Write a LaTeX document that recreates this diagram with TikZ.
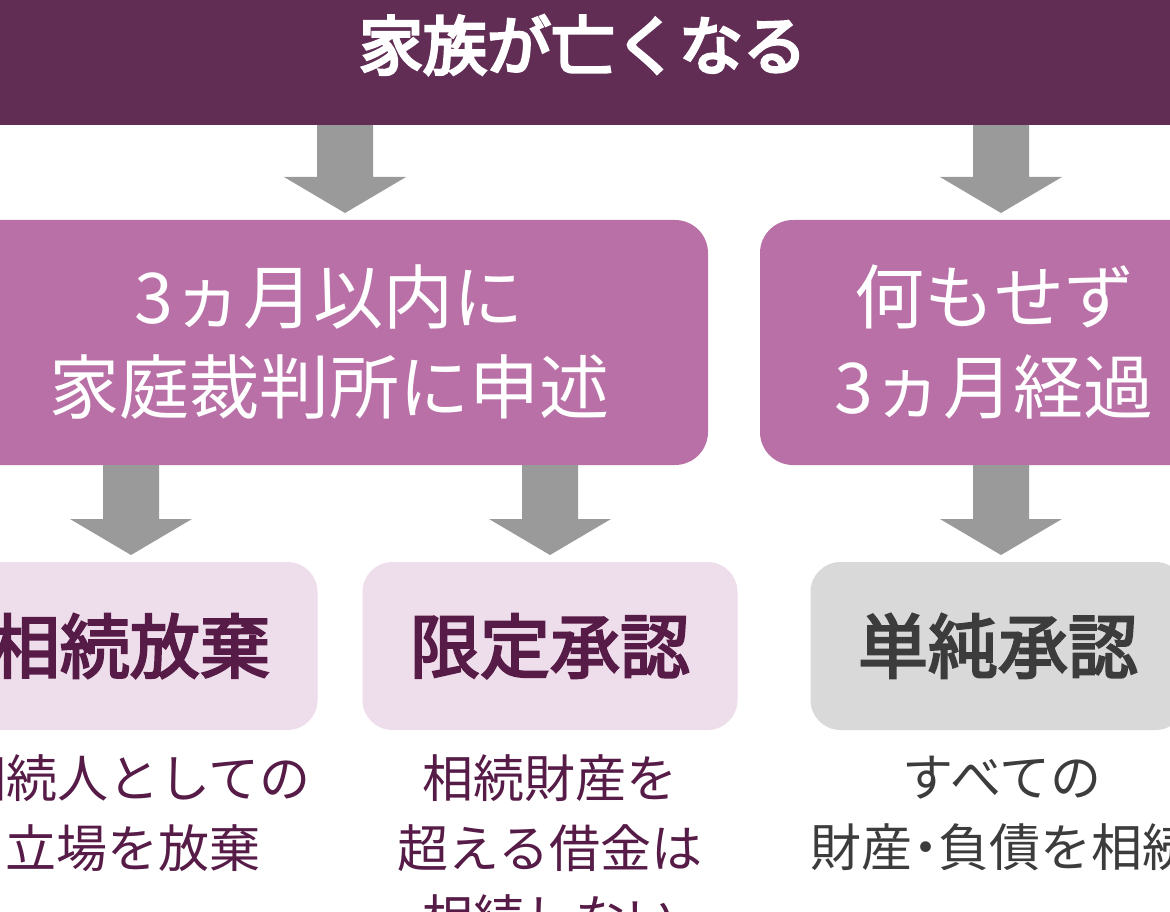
\documentclass[tikz,border=0pt]{standalone}
\usepackage{fontspec}
\newfontfamily\jp{Noto Sans CJK JP}
\newfontfamily\jpmed[FakeBold=3.2]{Noto Sans CJK JP}
\newfontfamily\jpsemi[FakeBold=4.5]{Noto Sans CJK JP}
\usetikzlibrary{calc}
\definecolor{bardark}{HTML}{622D55}
\definecolor{boxmid}{HTML}{B970A6}
\definecolor{boxlight}{HTML}{EEDDEA}
\definecolor{boxgray}{HTML}{D9D9D9}
\definecolor{arrowgray}{HTML}{9A9A9A}
\definecolor{txtpurple}{HTML}{561B47}
\definecolor{txtgray}{HTML}{3C3C3C}
\newcommand{\blockarrow}[2]{%
  \fill[arrowgray] ($(#1)+(-28,0)$) -- ($(#2)+(-28,-36)$) -- ($(#2)+(-61,-36)$) -- (#2)
    -- ($(#2)+(61,-36)$) -- ($(#2)+(28,-36)$) -- ($(#1)+(28,0)$) -- cycle;}
\begin{document}
\begin{tikzpicture}[x=1pt,y=-1pt,
  box/.style={rectangle, rounded corners=33pt, inner sep=0pt, align=center},
  midbox/.style={box, fill=boxmid, minimum height=245pt, text=white,
    font=\jp\fontsize{70}{90}\selectfont},
  lowbox/.style={box, rounded corners=30pt, minimum width=375pt, minimum height=168pt,
    font=\jpmed\fontsize{70}{70}\selectfont},
  desc/.style={inner sep=0pt, align=center, font=\jp\fontsize{51}{70}\selectfont}]
\useasboundingbox (0,0) rectangle (1170,912);
\fill[white] (0,0) rectangle (1170,912);
\clip (0,0) rectangle (1170,912);

\node[fill=bardark, minimum width=1300pt, minimum height=160pt, inner sep=0pt,
  text=white, font=\jpsemi\fontsize{64}{64}\selectfont] (top) at (583,45) {家族が亡くなる};

\node[midbox, minimum width=758pt] (proc) at (329,342.5) {3ヵ月以内に\\家庭裁判所に申述};
\node[midbox, minimum width=468pt] (none) at (994,342.5) {何もせず\\3ヵ月経過};

\node[lowbox, fill=boxlight, text=txtpurple] (bA) at (130,646) {相続放棄};
\node[lowbox, fill=boxlight, text=txtpurple] (bB) at (550,646) {限定承認};
\node[lowbox, fill=boxgray, text=txtgray] (bC) at (998,646) {単純承認};

\node[desc, text=txtpurple] (dA) at (133,813) {相続人としての\\立場を放棄};
\node[desc, text=txtpurple] (dB) at (550,848) {相続財産を\\超える借金は\\相続しない};
\node[desc, text=txtgray] (dC) at (1002,813) {すべての\\財産\kern-0.25em・\kern-0.25em負債を相続};

\coordinate (t1) at (345,213);
\coordinate (t2) at (1001,213);
\coordinate (t3) at (131,555);
\coordinate (t4) at (550,555);
\coordinate (t5) at (1001,555);
\blockarrow{top.south -| t1}{t1}
\blockarrow{top.south -| t2}{t2}
\blockarrow{proc.south -| t3}{t3}
\blockarrow{proc.south -| t4}{t4}
\blockarrow{none.south -| t5}{t5}
\end{tikzpicture}
\end{document}
